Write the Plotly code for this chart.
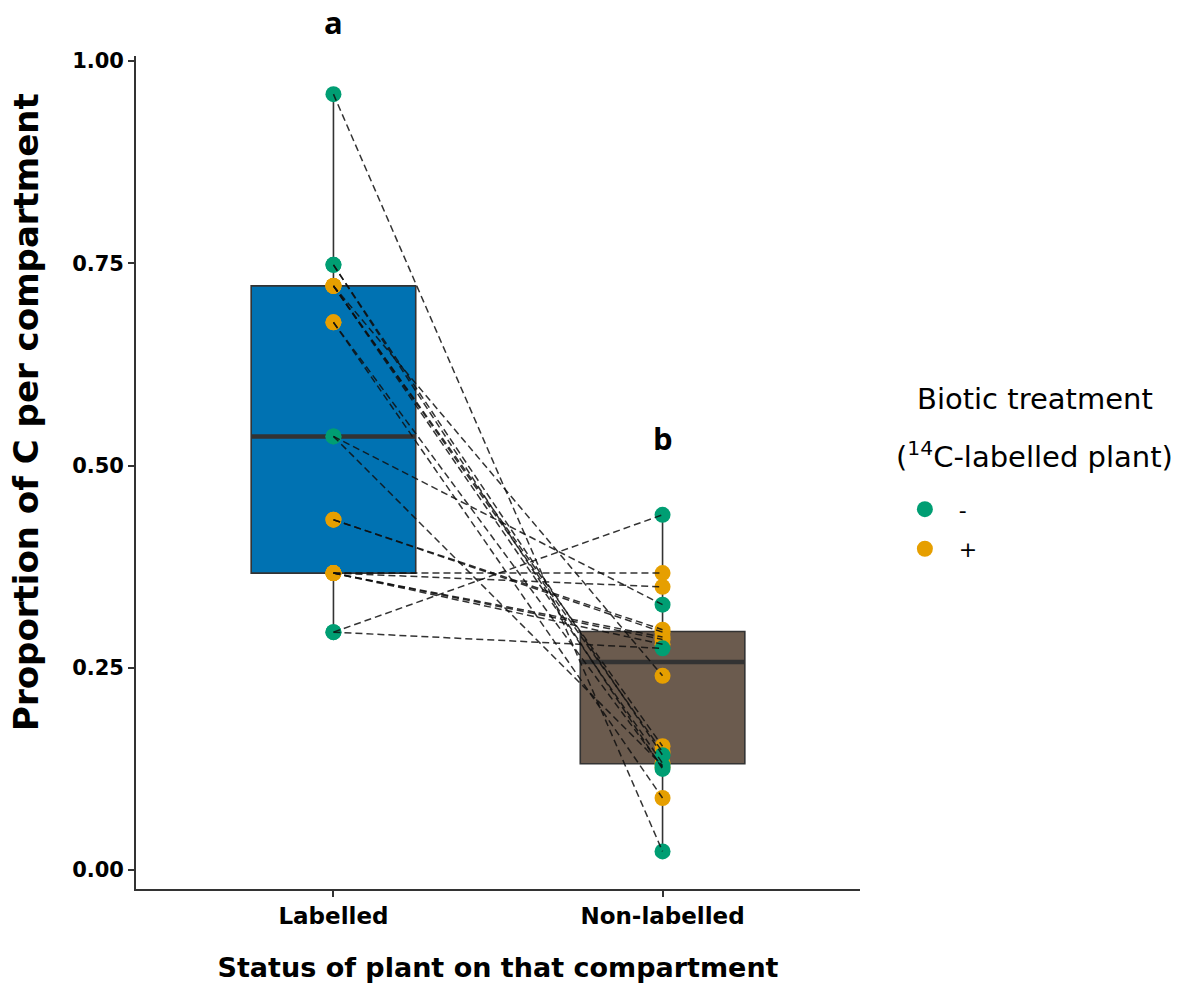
import numpy as np
import plotly.graph_objects as go

# Compartment categories (x axis)
categories = ["Labelled", "Non-labelled"]

# Paired proportions: each index is one plant pair (labelled value, non-labelled value)
labelled_minus = [0.959, 0.748, 0.748, 0.536, 0.536, 0.294, 0.294]
nonlabelled_minus = [0.023, 0.142, 0.125, 0.328, 0.129, 0.439, 0.274]

labelled_plus = [0.722, 0.722, 0.722, 0.722, 0.677, 0.677, 0.433, 0.433,
                 0.367, 0.367, 0.367, 0.367, 0.367]
nonlabelled_plus = [0.240, 0.153, 0.146, 0.132, 0.089, 0.127, 0.297, 0.294,
                    0.367, 0.350, 0.288, 0.285, 0.279]

treatment_names = ["-", "+"]
treatment_colors = {"-": "#009E73", "+": "#E69F00"}
box_colors = ["#0072B2", "#6B5B4E"]

# Significance letters above each group
group_letters = ["a", "b"]

tick_vals = [0.0, 0.25, 0.5, 0.75, 1.0]
tick_text = ["0.00", "0.25", "0.50", "0.75", "1.00"]

FONT = "DejaVu Sans"
AXIS_COL = "#333333"

labelled_all = np.array(labelled_minus + labelled_plus)
nonlabelled_all = np.array(nonlabelled_minus + nonlabelled_plus)
groups = [labelled_all, nonlabelled_all]

fig = go.Figure()

# Boxplots (quartiles computed from the data, whiskers to the extremes)
for i, vals in enumerate(groups):
    q1, med, q3 = np.percentile(vals, [25, 50, 75])
    fig.add_trace(go.Box(
        x=[i], q1=[q1], median=[med], q3=[q3],
        lowerfence=[vals.min()], upperfence=[vals.max()],
        width=0.5, whiskerwidth=0,
        fillcolor=box_colors[i],
        line=dict(color=AXIS_COL, width=1.6),
        showlegend=False, hoverinfo="skip",
    ))
    # thicker median bar
    fig.add_trace(go.Scatter(
        x=[i - 0.25, i + 0.25], y=[med, med], mode="lines",
        line=dict(color=AXIS_COL, width=4.5),
        showlegend=False, hoverinfo="skip",
    ))

# Points per treatment ("+" drawn first so "-" sits on top)
series = {"-": (labelled_minus, nonlabelled_minus),
          "+": (labelled_plus, nonlabelled_plus)}
for name, rank in [("+", 2), ("-", 1)]:
    lab, non = series[name]
    fig.add_trace(go.Scatter(
        x=[0] * len(lab) + [1] * len(non),
        y=list(lab) + list(non),
        mode="markers",
        marker=dict(color=treatment_colors[name], size=16, line=dict(width=0)),
        name="  " + name, legendrank=rank, legendgroup=name,
    ))

# Dashed lines joining each pair
lx, ly = [], []
for lab, non in [(labelled_minus, nonlabelled_minus), (labelled_plus, nonlabelled_plus)]:
    for a, b in zip(lab, non):
        lx += [0, 1, None]
        ly += [a, b, None]
fig.add_trace(go.Scatter(
    x=lx, y=ly, mode="lines",
    line=dict(color="rgba(15,15,15,0.85)", width=1.5, dash="7px,4px"),
    showlegend=False, hoverinfo="skip",
))

# Group letters: "a" sits above the plotting area, "b" just above its whisker
letter_font = dict(family="Open Sans", size=31, color="black", weight="bold")
fig.add_annotation(x=0, y=1.0408, xref="x", yref="paper", text=group_letters[0],
                   showarrow=False, yanchor="middle", font=letter_font)
fig.add_annotation(x=1, y=0.534, xref="x", yref="y", text=group_letters[1],
                   showarrow=False, yanchor="middle", font=letter_font)

# Y-axis title, rotated
fig.add_annotation(x=-0.152, y=0.5726, xref="paper", yref="paper",
                   text="Proportion of C per compartment", textangle=-90,
                   showarrow=False, xanchor="center", yanchor="middle",
                   font=dict(family=FONT, size=34, color="black", weight="bold"))

# Legend title (two lines)
fig.add_annotation(x=1.2417, y=0.588, xref="paper", yref="paper",
                   text="Biotic treatment", showarrow=False,
                   xanchor="center", yanchor="middle",
                   font=dict(family=FONT, size=29, color="black"))
fig.add_annotation(x=1.2417, y=0.521, xref="paper", yref="paper",
                   text="(<sup>14</sup>C-labelled plant)", showarrow=False,
                   xanchor="center", yanchor="middle",
                   font=dict(family=FONT, size=29, color="black"))

fig.update_layout(
    width=1182, height=992,
    margin=dict(l=136, r=322, t=56, b=103),
    paper_bgcolor="white", plot_bgcolor="white",
    showlegend=True,
    legend=dict(x=1.062, y=0.481, xanchor="left", yanchor="top",
                font=dict(family=FONT, size=22, color="black"),
                tracegroupgap=8, itemsizing="trace",
                bgcolor="rgba(0,0,0,0)"),
    xaxis=dict(
        range=[-0.6, 1.6], tickvals=[0, 1], ticktext=categories,
        showline=True, linecolor=AXIS_COL, linewidth=1.6,
        ticks="outside", ticklen=6, tickwidth=1.5, tickcolor=AXIS_COL,
        showgrid=False, zeroline=False,
        tickfont=dict(family=FONT, size=23, color="black", weight="bold"),
        title=dict(text="Status of plant on that compartment", standoff=30,
                   font=dict(family=FONT, size=27, color="black", weight="bold")),
    ),
    yaxis=dict(
        range=[-0.02348, 1.00618], tickvals=tick_vals, ticktext=tick_text,
        showline=True, linecolor=AXIS_COL, linewidth=1.6,
        ticks="outside", ticklen=6, tickwidth=1.5, tickcolor=AXIS_COL,
        showgrid=False, zeroline=False,
        tickfont=dict(family=FONT, size=21, color="black", weight="bold"),
    ),
)

fig.write_html("out.html")
